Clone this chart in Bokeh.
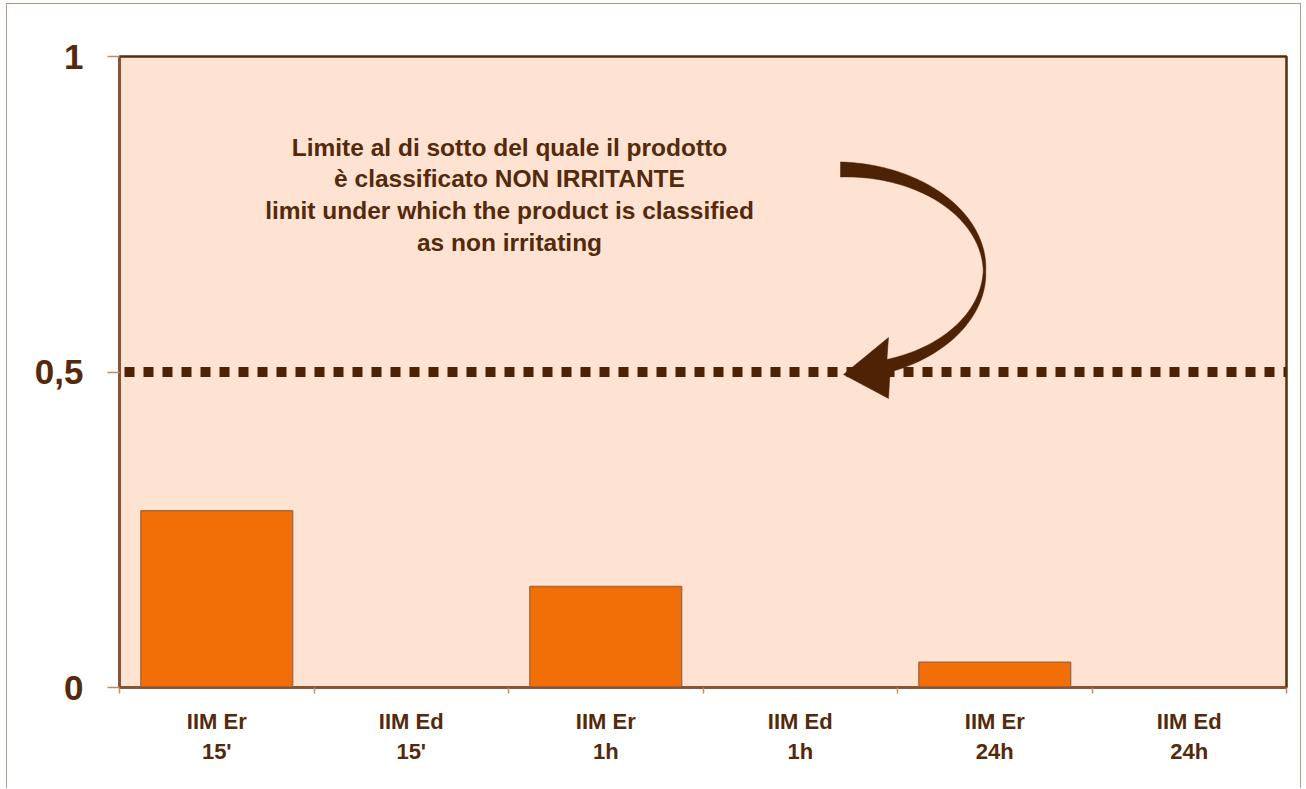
import numpy as np
from bokeh.plotting import figure
from bokeh.models import Range1d, FixedTicker, Span, LinearAxis
from bokeh.core.properties import value
from bokeh.embed import file_html
from bokeh.resources import INLINE

# ---- data ----
categories = ["IIM Er\n15'", "IIM Ed\n15'", "IIM Er\n1h", "IIM Ed\n1h", "IIM Er\n24h", "IIM Ed\n24h"]
values = [0.28, 0.0, 0.16, 0.0, 0.04, 0.0]
limit = 0.5
y_ticks = [0, 0.5, 1]
y_tick_labels = ["0", "0,5", "1"]
note_lines = [
    "Limite al di sotto del quale il prodotto",
    "è classificato NON IRRITANTE",
    "limit under which the product is classified",
    "as non irritating",
]

FONT = "Liberation Sans"
TXT = "#55290b"
DARK = "#4e2305"

n = len(categories)
centers = [i + 0.5 for i in range(n)]

p = figure(width=1295, height=785, x_range=Range1d(0, n), y_range=Range1d(0, 1),
           output_backend="svg", toolbar_location=None, x_axis_type=None, y_axis_type=None)
p.min_border_left = 112
p.min_border_right = 16
p.min_border_top = 52
p.min_border_bottom = 102
p.styles = {"margin-left": "6px", "margin-top": "3px",
            "border-left": "1px solid #bf9680", "border-top": "1px solid #bf9680",
            "border-right": "1px solid #bf9680"}
p.background_fill_color = "#fee3d2"
p.border_fill_color = "white"
p.outline_line_color = "#5a2d0c"
p.outline_line_width = 2.5

# y axis
yax = LinearAxis(ticker=FixedTicker(ticks=y_ticks, minor_ticks=[]))
yax.major_label_overrides = {t: l for t, l in zip(y_ticks, y_tick_labels)}
yax.major_label_text_font = FONT
yax.major_label_text_font_style = "bold"
yax.major_label_text_font_size = "35px"
yax.major_label_text_color = TXT
yax.major_label_standoff = 24
yax.major_tick_out = 12
yax.major_tick_in = 0
yax.major_tick_line_color = "#c08a6a"
yax.major_tick_line_width = 1.5
yax.axis_line_color = "#8b5030"
yax.axis_line_width = 2
p.add_layout(yax, "left")

# x axis: labels at centers, ticks at category boundaries (minor ticks)
xax = LinearAxis(ticker=FixedTicker(ticks=centers, minor_ticks=list(range(n + 1))))
xax.major_label_overrides = {c: lab for c, lab in zip(centers, categories)}
xax.major_label_text_font = FONT
xax.major_label_text_font_style = "bold"
xax.major_label_text_font_size = "22px"
xax.major_label_text_color = TXT
xax.major_label_text_align = "center"
xax.major_label_text_line_height = 1.22
xax.major_label_standoff = 15
xax.major_tick_out = 0
xax.major_tick_in = 0
xax.minor_tick_out = 6
xax.minor_tick_in = 0
xax.minor_tick_line_color = "#c08a6a"
xax.minor_tick_line_width = 1.5
xax.axis_line_color = "#8b5030"
xax.axis_line_width = 2
p.add_layout(xax, "below")

p.xgrid.visible = False
p.ygrid.ticker = FixedTicker(ticks=[limit])
p.ygrid.grid_line_color = "#c08060"
p.ygrid.grid_line_width = 1

# bars
p.vbar(x=centers, top=values, width=0.78, fill_color="#f26e07",
       line_color="#a8683f", line_width=1.5)

# limit line (square dots)
p.add_layout(Span(location=limit, dimension="width", line_color=DARK, line_width=10,
                  line_dash="10 9", line_dash_offset=14))

# ---- curved arrow annotation (geometry in pixel space, converted to data) ----
FX0, FX1, FY0, FY1 = 119.0, 1286.0, 56.0, 687.0
def px2x(px):
    return (np.asarray(px) - FX0) / (FX1 - FX0) * n
def py2y(py):
    return (FY1 - np.asarray(py)) / (FY1 - FY0)

cx, cy, rx, ry = 840.0, 270.0, 144.0, 101.0
th_end = -np.degrees(np.arccos((888.0 - cx) / rx))
th = np.linspace(90.0, th_end, 120)
thr = np.radians(th)
xs = cx + rx * np.cos(thr)
ys = cy - ry * np.sin(thr)
nx = np.cos(thr) / rx
ny = -np.sin(thr) / ry
nn = np.hypot(nx, ny)
nx, ny = nx / nn, ny / nn
thick = np.where(th >= 0, 2.5 + 12.5 * (th / 90.0), 2.5 + 10.5 * (-th / (-th_end)))
ox, oy = xs + nx * thick / 2, ys + ny * thick / 2
ix, iy = xs - nx * thick / 2, ys - ny * thick / 2
head_x = [888.0, 843.0, 888.0]
head_y = [398.0, 374.0, 337.0]
arr_px = list(ox) + head_x + list(ix[::-1])
arr_py = list(oy) + head_y + list(iy[::-1])
p.patch(px2x(arr_px), py2y(arr_py), fill_color=DARK, line_color=DARK, line_width=0.5)

# text note
note_x = [509.0] * 4
note_base = [147.0, 178.0, 210.0, 242.0]
p.text(x=px2x(note_x), y=py2y(note_base), text=note_lines,
       text_font=value(FONT), text_font_style="bold", text_font_size="24.5px",
       text_color=TXT, text_align="center", text_baseline="alphabetic")

open("out.html", "w").write(file_html(p, INLINE))
